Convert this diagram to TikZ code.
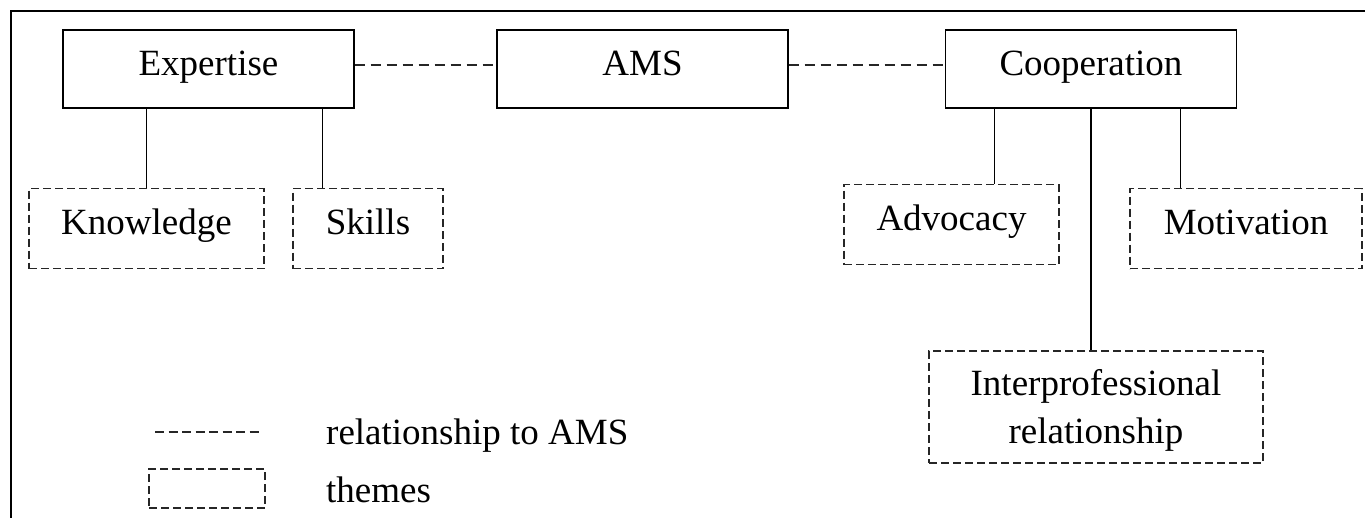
\documentclass[tikz,border=0pt]{standalone}
\usepackage{fontspec}
\setmainfont{Liberation Serif}
\usetikzlibrary{calc}
\begin{document}
\begin{tikzpicture}[x=1pt,y=-1pt,
 every node/.style={font=\fontsize{37}{48}\selectfont, inner sep=0pt},
 oneline/.style={text height=24.4pt, text depth=12.4pt},
 mainbox/.style={oneline, draw, line width=1.3pt, minimum width=291pt, minimum height=78pt},
 themebox/.style={draw=black!85, line width=1.2pt, dash pattern=on 8pt off 4pt, minimum height=80pt},
 link/.style={line width=1.2pt},
 rel/.style={draw=black!85, line width=1.2pt, dash pattern=on 10pt off 6pt},
 legrel/.style={draw=black!85, line width=1.1pt, dash pattern=on 9pt off 4.5pt}]
\useasboundingbox (0,0) rectangle (1365,517);
\clip (0,0) rectangle (1365,517);
\draw[line width=2pt] (10.7,600) -- (10.7,11) -- (1400,11);
% main boxes
\node[mainbox] (exp) at (208.5,69) {Expertise};
\node[mainbox] (ams) at (642.5,69) {AMS};
\node[mainbox] (coop) at (1091,69) {Cooperation};
% themes
\node[themebox, oneline, minimum width=235pt] (know) at (146.5,228.5) {Knowledge};
\node[themebox, oneline, minimum width=150pt] (skills) at (368,228.5) {Skills};
\node[themebox, oneline, minimum width=215pt] (adv) at (951.5,224.5) {Advocacy};
\node[themebox, oneline, minimum width=232pt] (mot) at (1246,228.5) {Motivation};
\node[themebox, minimum width=334pt, minimum height=112pt, align=center] (inter) at (1096,407) {\rule{0pt}{33pt}Interprofessional\\relationship};
% relationships
\draw[rel] ([yshift=4pt]exp.east) -- ([yshift=4pt]ams.west);
\draw[rel] ([yshift=4pt]ams.east) -- ([yshift=4pt]coop.west);
% links
\draw[link] (know.north) -- (know.north |- exp.south);
\draw[link] ($(skills.north west)+(30,0)$) coordinate (s1) -- (s1 |- exp.south);
\draw[link] ($(coop.south west)+(50,0)$) coordinate (c1) -- (c1 |- adv.north);
\draw[link] ($(coop.south west)+(235.5,0)$) coordinate (c2) -- (c2 |- mot.north);
\draw[link] (coop.south) -- (coop.south |- inter.north);
% legend
\coordinate (l1) at (155,432);
\coordinate (l2) at (263,432);
\draw[legrel] (l1) -- (l2);
\node[themebox, minimum width=116pt, minimum height=39pt] (lbox) at (207,488.5) {};
\node[anchor=base west] (t1) at (326,444) {relationship to AMS};
\node[anchor=base west] (t2) at (326,502) {themes};
\end{tikzpicture}
\end{document}
